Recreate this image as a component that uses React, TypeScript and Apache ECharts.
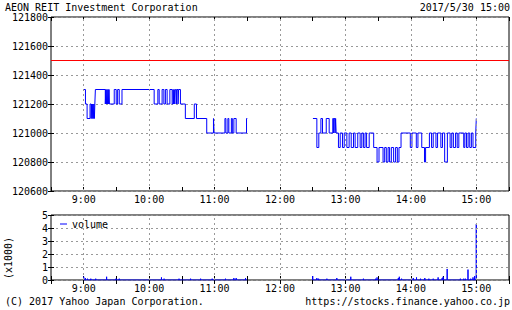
import React, { useEffect, useRef } from 'react';
import * as echarts from 'echarts';

const FONT = "'DejaVu Sans Mono', monospace";

const TITLE = 'AEON REIT Investment Corporation';
const STAMP = '2017/5/30 15:00';
const COPYRIGHT = '(C) 2017 Yahoo Japan Corporation.';
const SITE = 'https://stocks.finance.yahoo.co.jp';
const VOLUME_UNIT = '(x1000)';

const hourLabels = ['9:00', '10:00', '11:00', '12:00', '13:00', '14:00', '15:00'];
const refPrice = 121500;

// [minutes after 9:00, price] - morning session (step changes)
const amSteps: [number, number][] = [
  [0, 121300], [1.6, 121200], [3.1, 121100], [5.8, 121200], [6.8, 121100],
  [7.3, 121200], [7.8, 121100], [8.3, 121200], [8.8, 121100], [9.3, 121200],
  [9.8, 121100], [10.2, 121200], [10.7, 121300], [19.8, 121200], [20.3, 121300],
  [20.8, 121200], [21.3, 121300], [21.8, 121200], [22.3, 121300], [22.8, 121200],
  [23.2, 121300], [23.6, 121200], [28, 121300], [29.8, 121200], [31.1, 121300],
  [32.6, 121200], [35.1, 121300], [64.6, 121200], [68, 121300], [69.2, 121200],
  [71.9, 121300], [73.5, 121200], [74.9, 121300], [76.5, 121200], [79, 121300],
  [81.1, 121200], [82, 121300], [82.5, 121200], [83, 121300], [83.5, 121200],
  [84, 121300], [85, 121200], [85.6, 121300], [86.5, 121200], [87, 121300],
  [88.7, 121200], [93.2, 121100], [101.4, 121200], [103.4, 121100], [112.8, 121000],
  [119, 121100], [119.6, 121000], [129.5, 121100], [130.4, 121000], [132.2, 121100],
  [133.1, 121000], [135.4, 121100], [136.3, 121000], [137.7, 121100], [139.8, 121000],
  [149.3, 121100], [150, 121100],
];

// [minutes after 9:00, price] - afternoon session
const pmSteps: [number, number][] = [
  [210.2, 121100], [213.8, 120900], [215.6, 121000], [217.5, 121100], [219, 121000],
  [222.4, 121100], [225.1, 121000], [228.4, 121100], [229.2, 121000], [229.7, 121100],
  [230.5, 121000], [231, 121100], [231.5, 121000], [233.6, 120900], [235.2, 121000],
  [237.3, 120900], [238.9, 121000], [241.3, 120900], [243.4, 121000], [245.3, 120900],
  [247.4, 121000], [248.9, 120900], [251.3, 121000], [253.5, 120900], [255, 121000],
  [256.5, 120900], [258, 121000], [259.4, 120900], [261.8, 121000], [265.9, 120900],
  [269, 120800], [270.8, 120900], [274.5, 120800], [276, 120900], [277.5, 120800],
  [279.1, 120900], [280.5, 120800], [282.1, 120900], [284.2, 120800], [286, 120900],
  [287.6, 120800], [289.1, 120900], [291, 121000], [299.5, 120900], [301, 121000],
  [305, 120900], [306.5, 121000], [310, 120900], [312.5, 120800], [313.5, 120900],
  [317, 121000], [319, 120900], [320.5, 121000], [323, 120900], [324.5, 121000],
  [327.5, 120900], [329, 121000], [331, 120800], [333.5, 121000], [336, 120900],
  [337.5, 121000], [339, 120900], [341, 121000], [342.5, 120900], [344, 121000],
  [348.5, 120900], [349.5, 121000], [351, 120900], [352.5, 121000], [354, 120900],
  [355.5, 121000], [357, 120900], [359.5, 121000], [360, 121100],
];

// volume spikes (minutes after 9:00) and sizes (x1000)
const volTimes = [
  0, 1.5, 3.5, 6.5, 11, 21, 29.6, 32.6, 50.9, 71.3, 73.7, 87.4, 98, 107.2, 117.8,
  130, 137.7, 139.8, 148.4,
  210, 213.8, 215.4, 223, 232.1, 244.9, 256.5, 267.7, 269, 288.5, 289.4, 291.5,
  302.2, 305.2, 308.9, 312.8, 316.5, 320.5, 325, 328.7, 329.6, 333.3, 345.4, 348.5,
  350, 352.4, 354.9, 357, 358.5, 360,
];
const volValues = [
  0.25, 0.15, 0.1, 0.1, 0.1, 0.25, 0.1, 0.1, 0.05, 0.2, 0.1, 0.1, 0.1, 0.1, 0.1,
  0.1, 0.15, 0.15, 0.15,
  0.3, 0.15, 0.1, 0.1, 0.15, 0.25, 0.1, 0.1, 0.2, 0.15, 0.25, 0.1,
  0.15, 0.2, 0.1, 0.15, 0.1, 0.1, 0.2, 0.15, 0.25, 0.85, 0.1, 0.1,
  0.1, 0.8, 0.1, 0.2, 0.3, 4.3,
];
const sessions: [number, number][] = [[0, 150], [210, 360]];

// axis runs from 8:30 (0) to 15:30 (420); 9:00 sits at 30
const X0 = 30;

const BLUE = '#0000ff';
const GRID_GRAY = '#999999';

function volumeLine(start: number, end: number) {
  const pts: [number, number][] = [[start + X0, 0]];
  volTimes.forEach((t, i) => {
    if (t >= start && t <= end) {
      pts.push([t + X0, 0], [t + X0, volValues[i]], [t + X0, 0]);
    }
  });
  pts.push([end + X0, 0]);
  return pts;
}

function xAxisDef(gridIndex: number, position: string, showLabels: boolean) {
  return {
    type: 'value',
    gridIndex,
    position,
    min: 0,
    max: 420,
    interval: 30,
    axisLine: { show: false },
    axisTick: { show: true, inside: true, length: 4, lineStyle: { color: '#000', width: 1 } },
    axisLabel: {
      show: showLabels,
      margin: 3,
      fontSize: 10,
      fontFamily: FONT,
      color: '#000',
      formatter: (v: number) => {
        const k = v - X0;
        if (k < 0 || k % 60 !== 0) return '';
        return hourLabels[k / 60] ?? '';
      },
    },
    splitLine: { show: false },
  };
}

function yAxisDef(gridIndex: number, position: string, min: number, max: number, interval: number, showLabels: boolean) {
  return {
    type: 'value',
    gridIndex,
    position,
    min,
    max,
    interval,
    axisLine: { show: false },
    axisTick: { show: true, inside: true, length: 3, lineStyle: { color: '#000', width: 1 } },
    axisLabel: {
      show: showLabels,
      margin: 3,
      fontSize: 10,
      fontFamily: FONT,
      color: '#000',
      formatter: (v: number) => String(v),
    },
    splitLine: {
      show: showLabels,
      lineStyle: { color: GRID_GRAY, type: [2, 3], width: 1 },
    },
  };
}

const hourMarks = (style: any) =>
  hourLabels.map((_, i) => ({ xAxis: X0 + i * 60, lineStyle: style }));

const gridLineStyle = { color: GRID_GRAY, type: [2, 3], width: 1 };

export default function App() {
  const ref = useRef<HTMLDivElement>(null);

  useEffect(() => {
    if (!ref.current) return;
    const chart = echarts.init(ref.current, null, { renderer: 'svg' });
    const option: any = {
      animation: false,
      backgroundColor: '#ffffff',
      textStyle: { fontFamily: FONT },
      grid: [
        { left: 51, top: 17, width: 460, height: 174, show: true, borderColor: '#000', borderWidth: 1, backgroundColor: 'transparent' },
        { left: 51, top: 215, width: 460, height: 65, show: true, borderColor: '#000', borderWidth: 1, backgroundColor: 'transparent' },
      ],
      xAxis: [
        xAxisDef(0, 'bottom', true),
        xAxisDef(0, 'top', false),
        xAxisDef(1, 'bottom', true),
        xAxisDef(1, 'top', false),
      ],
      yAxis: [
        yAxisDef(0, 'left', 120600, 121800, 200, true),
        yAxisDef(0, 'right', 120600, 121800, 200, false),
        yAxisDef(1, 'left', 0, 5, 1, true),
        yAxisDef(1, 'right', 0, 5, 1, false),
      ],
      legend: {
        data: ['volume'],
        left: 60,
        top: 219,
        icon: 'rect',
        itemWidth: 7,
        itemHeight: 1,
        padding: 0,
        itemGap: 0,
        textStyle: { fontSize: 10, fontFamily: FONT, color: '#000' },
      },
      series: [
        {
          type: 'line',
          name: 'price',
          xAxisIndex: 0,
          yAxisIndex: 0,
          step: 'end',
          showSymbol: false,
          color: BLUE,
          lineStyle: { color: BLUE, width: 1 },
          data: amSteps.map(([t, p]) => [t + X0, p]),
          markLine: {
            silent: true,
            symbol: 'none',
            label: { show: false },
            animation: false,
            data: [
              ...hourMarks(gridLineStyle),
              { yAxis: refPrice, lineStyle: { color: '#ff0000', type: 'solid', width: 1 } },
            ],
          },
        },
        {
          type: 'line',
          name: 'price',
          xAxisIndex: 0,
          yAxisIndex: 0,
          step: 'end',
          showSymbol: false,
          color: BLUE,
          lineStyle: { color: BLUE, width: 1 },
          data: pmSteps.map(([t, p]) => [t + X0, p]),
        },
        ...sessions.map(([s, e], i) => ({
          type: 'line',
          name: 'volume',
          xAxisIndex: 2,
          yAxisIndex: 2,
          showSymbol: false,
          color: BLUE,
          lineStyle: { color: BLUE, width: 1 },
          data: volumeLine(s, e),
          markLine: i === 0 ? {
            silent: true,
            symbol: 'none',
            label: { show: false },
            animation: false,
            data: hourMarks(gridLineStyle),
          } : undefined,
        })),
      ],
      graphic: [
        { type: 'text', x: 5, y: 7, style: { text: TITLE, font: `10px ${FONT}`, fill: '#000', textAlign: 'left', textVerticalAlign: 'middle' } },
        { type: 'text', x: 510, y: 7, style: { text: STAMP, font: `10px ${FONT}`, fill: '#000', textAlign: 'right', textVerticalAlign: 'middle' } },
        { type: 'text', x: 5, y: 301, style: { text: COPYRIGHT, font: `10px ${FONT}`, fill: '#000', textAlign: 'left', textVerticalAlign: 'middle' } },
        { type: 'text', x: 510, y: 301, style: { text: SITE, font: `10px ${FONT}`, fill: '#000', textAlign: 'right', textVerticalAlign: 'middle' } },
        { type: 'text', x: 8, y: 258, rotation: Math.PI / 2, style: { text: VOLUME_UNIT, font: `10px ${FONT}`, fill: '#000', textAlign: 'center', textVerticalAlign: 'middle' } },
      ],
    };
    chart.setOption(option);
    return () => chart.dispose();
  }, []);

  return (
    <div
      ref={ref}
      style={{ position: 'absolute', left: 0, top: 0, width: 512, height: 310, background: '#fff' }}
    />
  );
}
